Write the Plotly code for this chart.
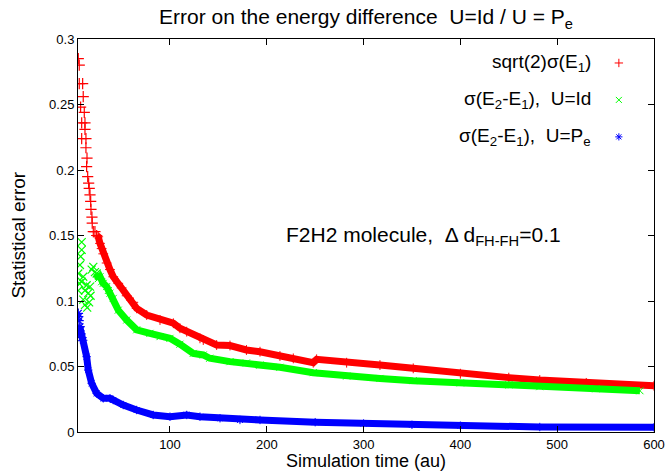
import plotly.graph_objects as go

# ---------------- data ----------------
# sqrt(2) sigma(E1)  (red)
red_early_t = [5.3, 6.3, 6.3, 9.8, 10.4, 7.7, 11.5, 8.8, 12.2, 12.2, 8.8, 13.2, 13.2, 14.3, 13.9,
               15.0, 16.0, 16.6, 17.4, 18.1, 18.4, 19.4, 19.7, 20.8, 22.5, 24.3]
red_early_v = [0.285, 0.280, 0.266, 0.266, 0.256, 0.248, 0.244, 0.236, 0.236, 0.231, 0.224, 0.224,
               0.217, 0.209, 0.2025, 0.195, 0.190, 0.186, 0.181, 0.176, 0.170, 0.164, 0.1595, 0.153,
               0.153, 0.150]
red_t = [24.3, 25.9, 27.7, 29.4, 31.1, 34.6, 38.0, 41.4, 46.6, 50.1, 55.3, 62.1, 65.6, 76.0, 89.7,
         103.5, 110.3, 117.3, 131.0, 134.4, 148.2, 162.0, 179.0, 193.0, 213.6, 227.4, 248.0, 251.5,
         282.5, 316.9, 351.3, 400.0, 450.0, 482.0, 530.0, 600.0]
red_v = [0.150, 0.149, 0.144, 0.140, 0.136, 0.129, 0.124, 0.1185, 0.1135, 0.110, 0.104, 0.099,
         0.0944, 0.0893, 0.0855, 0.083, 0.0792, 0.0766, 0.0715, 0.0702, 0.0664, 0.066, 0.0626,
         0.0613, 0.058, 0.0562, 0.0529, 0.0555, 0.0529, 0.0511, 0.0486, 0.0445, 0.0415, 0.0397,
         0.0375, 0.0353]

# sigma(E2-E1), U=Id  (green)
green_early_t = [5.3, 5.3, 6.3, 7.0, 7.7, 8.8, 8.8, 8.8, 10.4, 10.4, 12.2, 12.2, 13.9, 14.5, 15.6,
                 16.5, 17.4, 18.0, 19.1, 20.8, 22.5, 24.3]
green_early_v = [0.121, 0.108, 0.1135, 0.1275, 0.134, 0.139, 0.145, 0.1147, 0.1185, 0.101, 0.108,
                 0.097, 0.112, 0.095, 0.106, 0.099, 0.111, 0.104, 0.124, 0.126, 0.122, 0.121]
green_t = [24.3, 25.9, 27.7, 29.4, 31.1, 34.6, 36.3, 38.0, 41.4, 46.6, 55.3, 65.6, 79.3, 89.7, 100.0,
           110.3, 124.0, 134.4, 141.0, 162.0, 179.0, 193.0, 213.6, 248.0, 282.5, 316.9, 351.3, 400.0,
           450.0, 482.0, 540.0, 585.5]
green_v = [0.121, 0.117, 0.1185, 0.1147, 0.1135, 0.111, 0.108, 0.106, 0.102, 0.093, 0.0855, 0.078,
           0.0753, 0.0728, 0.0715, 0.067, 0.060, 0.0588, 0.0563, 0.0537, 0.0527, 0.0511, 0.0494,
           0.0453, 0.0427, 0.0409, 0.0392, 0.0375, 0.036, 0.0346, 0.033, 0.0315]

# sigma(E2-E1), U=Pe  (blue)
blue_early_t = [5.3, 5.6, 6.0, 6.5, 7.0, 8.0, 8.8]
blue_early_v = [0.0906, 0.088, 0.085, 0.077, 0.0804, 0.075, 0.072]
blue_t = [7.0, 10.4, 13.9, 15.6, 19.1, 24.3, 31.1, 38.0, 41.4, 51.8, 65.6, 82.7, 100.0, 117.3, 131.0,
          151.7, 172.3, 193.0, 250.0, 300.0, 350.0, 400.0, 482.0, 600.0]
blue_v = [0.080, 0.070, 0.0575, 0.0473, 0.0372, 0.0295, 0.0257, 0.0257, 0.0244, 0.0206, 0.0168,
          0.013, 0.0117, 0.013, 0.0117, 0.0105, 0.0092, 0.0092, 0.0075, 0.0065, 0.0055, 0.0048,
          0.0038, 0.0036]

series_names = ["sqrt(2)σ(E<sub>1</sub>)",
                "σ(E<sub>2</sub>-E<sub>1</sub>),\u00a0\u00a0U=Id",
                "σ(E<sub>2</sub>-E<sub>1</sub>),\u00a0\u00a0U=P<sub>e</sub>"]
series_colors = ["#ff0000", "#00ff00", "#0000ff"]
series_symbols = ["cross-thin", "x-thin", "asterisk-open"]

x_ticks = [100, 200, 300, 400, 500, 600]
y_ticks = [0, 0.05, 0.1, 0.15, 0.2, 0.25, 0.3]
y_tick_text = ["0", "0.05", "0.1", "0.15", "0.2", "0.25", "0.3"]

FONT = "Liberation Sans, Arial, sans-serif"

fig = go.Figure()

data = [(red_early_t, red_early_v, red_t, red_v),
        (green_early_t, green_early_v, green_t, green_v),
        (blue_early_t, blue_early_v, blue_t, blue_v)]

for (et, ev, t, v), col, sym in zip(data, series_colors, series_symbols):
    fig.add_trace(go.Scatter(x=t, y=v, mode="lines+markers",
                             line=dict(color=col, width=7),
                             marker=dict(symbol=sym, size=7, color=col, line=dict(color=col, width=1)),
                             showlegend=False, hoverinfo="skip"))
    fig.add_trace(go.Scatter(x=et, y=ev, mode="markers",
                             marker=dict(symbol=sym, size=8, color=col, line=dict(color=col, width=1.2)),
                             showlegend=False, hoverinfo="skip"))

# custom legend (text left of sample, gnuplot style)
leg_y = [0.939, 0.845, 0.751]
for name, col, sym, ly in zip(series_names, series_colors, series_symbols, leg_y):
    fig.add_trace(go.Scatter(x=[0.939], y=[ly], xaxis="x2", yaxis="y2", mode="markers",
                             marker=dict(symbol=sym, size=6, color=col, line=dict(color=col, width=1)),
                             showlegend=False, hoverinfo="skip"))
    fig.add_annotation(x=0.894, y=ly, xref="paper", yref="paper", text=name, showarrow=False,
                       xanchor="right", yanchor="middle", font=dict(family=FONT, size=19, color="black"))

fig.add_annotation(x=0.599, y=0.50, xref="paper", yref="paper",
                   text="F2H2 molecule,\u00a0\u00a0Δ d<sub>FH-FH</sub>=0.1", showarrow=False,
                   xanchor="center", yanchor="middle", font=dict(family=FONT, size=21, color="black"))

# axis titles placed as annotations (gnuplot positions)
fig.add_annotation(x=0.5, y=-0.074, xref="paper", yref="paper", text="Simulation time (au)",
                   showarrow=False, xanchor="center", yanchor="middle",
                   font=dict(family=FONT, size=18, color="black"))
fig.add_annotation(x=-0.104, y=0.5, xref="paper", yref="paper", text="Statistical error",
                   showarrow=False, xanchor="center", yanchor="middle", textangle=-90,
                   font=dict(family=FONT, size=19, color="black"))

axis_common = dict(showline=True, linecolor="black", linewidth=1, mirror="ticks", ticks="inside",
                   ticklen=6, tickcolor="black", showgrid=False, zeroline=False, automargin=False,
                   tickfont=dict(family=FONT, size=13, color="black"))

fig.update_layout(
    width=668, height=472,
    margin=dict(l=78, r=14, t=39, b=40),
    paper_bgcolor="white", plot_bgcolor="white",
    title=dict(text="Error on the energy difference\u00a0\u00a0U=Id / U = P<sub>e</sub>",
               x=0.5, xref="paper", xanchor="center", y=1 - 17 / 472, yref="container",
               yanchor="middle", font=dict(family=FONT, size=21, color="black")),
    xaxis=dict(range=[5, 600], tickvals=x_ticks, ticktext=[str(v) for v in x_ticks], **axis_common),
    yaxis=dict(range=[0, 0.3], tickvals=y_ticks, ticktext=y_tick_text, **axis_common),
    xaxis2=dict(overlaying="x", range=[0, 1], visible=False),
    yaxis2=dict(overlaying="y", range=[0, 1], visible=False),
)

fig.write_html("out.html")
